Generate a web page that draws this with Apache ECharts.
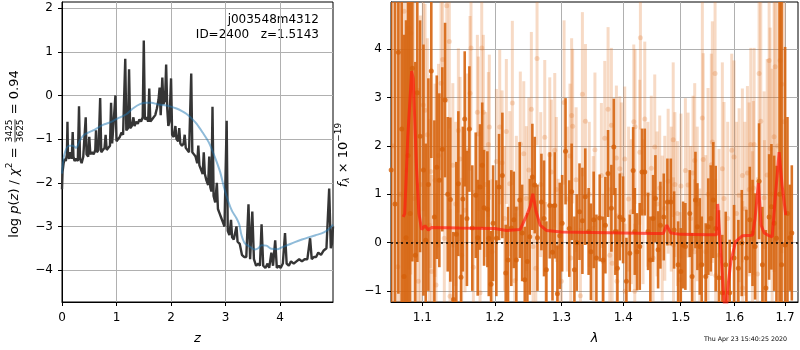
<!DOCTYPE html>
<html>
<head>
<meta charset="utf-8">
<script src="https://cdn.jsdelivr.net/npm/echarts@6/dist/echarts.min.js"></script>
<style>
html, body { margin: 0; padding: 0; background: #fff; }
#box { width: 800px; height: 350px; }
</style>
</head>
<body>
<div id="box"></div>
<script>
var FONT = 'DejaVu Sans';

// ---- left panel: log p(z) ----
// [z, log p(z)]
var pzCurve = [
  [0.00,-2.15],[0.01,-1.75],[0.03,-1.55],[0.05,-1.45],[0.07,-1.5],[0.09,-1.35],[0.10,-0.6],[0.11,-1.4],
  [0.13,-1.45],[0.15,-1.3],[0.17,-1.4],[0.18,-1.45],[0.196,-0.84],[0.21,-1.4],[0.23,-1.5],[0.26,-1.45],
  [0.29,-1.5],[0.312,-0.25],[0.33,-1.45],[0.36,-1.55],[0.39,-1.4],[0.42,-1.4],[0.435,-0.5],[0.45,-1.35],
  [0.48,-1.4],[0.50,-0.95],[0.52,-1.35],[0.55,-1.3],[0.58,-1.35],[0.61,-1.25],[0.624,-0.8],[0.64,-1.3],
  [0.67,-1.25],[0.70,-0.06],[0.72,-1.3],[0.75,-1.25],[0.78,-1.2],[0.80,-0.9],[0.82,-1.25],[0.85,-1.2],
  [0.88,-1.15],[0.90,-0.17],[0.92,-1.1],[0.95,-1.1],[0.98,0.0],[1.00,-1.05],[1.03,-1.0],[1.06,-0.95],
  [1.09,-0.85],[1.12,-0.9],[1.16,0.84],[1.18,-0.8],[1.21,-0.75],[1.23,0.6],[1.25,-0.75],[1.28,-0.7],
  [1.31,-0.5],[1.33,-0.7],[1.36,-0.6],[1.39,-0.65],[1.42,-0.55],[1.45,-0.6],[1.48,-0.5],[1.50,1.26],
  [1.52,-0.55],[1.55,-0.5],[1.58,-0.6],[1.60,0.16],[1.62,-0.6],[1.65,-0.55],[1.68,-0.55],[1.71,-0.45],
  [1.74,-0.3],[1.77,-0.1],[1.79,0.18],[1.81,-0.45],[1.84,0.41],[1.86,-0.2],[1.89,-0.1],[1.91,0.71],
  [1.93,-0.3],[1.95,-0.7],[1.97,-0.6],[2.00,0.39],[2.02,-0.9],[2.05,-0.95],[2.08,-0.7],[2.10,-1.0],
  [2.13,-1.05],[2.15,-0.75],[2.17,-1.1],[2.20,-1.15],[2.23,-1.1],[2.25,-0.9],[2.27,-1.2],[2.30,-1.25],
  [2.33,-1.3],[2.37,0.5],[2.39,-1.3],[2.42,-1.35],[2.45,-1.4],[2.48,-1.55],[2.50,-1.15],[2.52,-1.6],
  [2.55,-1.7],[2.58,-1.8],[2.60,-1.3],[2.62,-1.8],[2.65,-1.95],[2.68,-2.05],[2.70,-1.4],[2.72,-2.1],
  [2.74,-2.2],[2.76,-0.26],[2.78,-2.3],[2.81,-2.45],[2.84,-2.0],[2.86,-2.6],[2.89,-2.7],[2.92,-2.8],
  [2.95,-2.9],[2.98,-3.0],[3.02,-0.58],[3.04,-3.1],[3.07,-3.2],[3.10,-2.85],[3.12,-3.25],[3.15,-3.3],
  [3.18,-3.3],[3.20,-3.0],[3.22,-3.35],[3.26,-3.4],[3.30,-3.65],[3.34,-3.7],[3.38,-3.7],[3.42,-2.49],
  [3.45,-3.75],[3.49,-2.66],[3.52,-3.75],[3.56,-3.9],[3.60,-3.85],[3.63,-3.9],[3.66,-2.95],[3.69,-3.9],
  [3.73,-3.95],[3.77,-3.85],[3.80,-3.95],[3.84,-3.6],[3.87,-3.9],[3.91,-3.32],[3.94,-3.95],[3.98,-3.9],
  [4.01,-3.95],[4.05,-3.85],[4.09,-3.15],[4.12,-3.85],[4.16,-3.9],[4.20,-3.8],[4.25,-3.85],[4.30,-3.8],
  [4.35,-3.75],[4.40,-3.8],[4.45,-3.75],[4.50,-3.75],[4.55,-3.27],[4.58,-3.75],[4.62,-3.7],[4.66,-3.7],
  [4.70,-3.6],[4.75,-3.65],[4.80,-3.55],[4.85,-3.5],[4.90,-2.13],[4.93,-3.5],[4.95,-3.4],[4.97,-3.0]
];
// smooth prior-like curve [z, value]
var pzSmooth = [
  [0,-1.79],[0.04,-1.37],[0.13,-1.15],[0.2,-1.15],[0.26,-1.2],[0.32,-1.05],[0.39,-0.92],[0.48,-0.85],
  [0.57,-0.8],[0.67,-0.73],[0.76,-0.67],[0.85,-0.63],[0.94,-0.58],[1.05,-0.51],[1.18,-0.43],[1.3,-0.3],
  [1.43,-0.2],[1.55,-0.17],[1.64,-0.17],[1.75,-0.2],[1.85,-0.22],[1.98,-0.25],[2.1,-0.3],[2.2,-0.36],
  [2.28,-0.42],[2.38,-0.53],[2.47,-0.65],[2.58,-0.85],[2.69,-1.07],[2.8,-1.4],[2.9,-1.75],[2.97,-2.1],
  [3.05,-2.43],[3.12,-2.65],[3.2,-2.81],[3.25,-2.95],[3.29,-3.19],[3.35,-3.38],[3.45,-3.47],[3.54,-3.53],
  [3.6,-3.5],[3.66,-3.43],[3.75,-3.44],[3.84,-3.51],[3.95,-3.52],[4.03,-3.48],[4.15,-3.42],[4.27,-3.36],
  [4.4,-3.3],[4.52,-3.25],[4.65,-3.2],[4.76,-3.16],[4.85,-3.1],[4.92,-3.03],[4.97,-2.96]
];
var zTicks = [0, 1, 2, 3, 4];
var pzTicks = [-4, -3, -2, -1, 0, 1, 2];

// ---- right panel: spectrum ----
// [lambda, flux, err]  dark (first spectrum)
var specDark = [
  [1.0596,1.5,6],[1.0645,0.8,6],[1.0688,3.94,5],[1.0731,2.35,5],[1.0761,-0.7,5],[1.0787,0.1,4.5],
  [1.0813,1.8,5],[1.0840,0.6,5],[1.0869,3.61,4],[1.0908,-0.26,4],[1.0934,3.1,3.5],[1.0970,2.2,2.4],
  [1.1015,1.5,2.6],[1.1045,0.05,2.0],[1.1080,1.2,2.2],[1.1119,3.55,1.8],[1.1160,0.53,2.0],[1.1192,1.56,1.9],
  [1.1227,1.29,1.8],[1.1267,1.93,1.7],[1.1304,2.95,1.6],[1.1340,1.0,1.6],[1.1376,0.89,1.7],[1.1417,-1.18,1.4],
  [1.1458,0.17,1.5],[1.1486,1.22,1.5],[1.1523,-0.72,1.3],[1.1548,0.9,1.5],[1.1574,2.56,1.4],[1.1605,0.5,1.4],
  [1.1639,2.35,1.3],[1.1680,0.3,1.3],[1.1728,0.98,1.3],[1.1756,0.1,1.2],[1.1789,1.15,1.3],[1.1820,1.6,1.3],
  [1.1846,0.72,1.2],[1.1893,0.69,1.2],[1.1913,0.09,1.2],[1.1946,-0.86,1.1],[1.1975,0.4,1.2],
  [1.2022,0.09,1.2],[1.2061,1.15,1.1],[1.2109,1.39,1.3],[1.2158,-0.63,1.0],[1.2192,-0.36,1.1],[1.2240,0.3,1.2],
  [1.2276,0.47,1.0],[1.2314,-0.36,1.1],[1.2364,0.88,1.2],[1.2400,0.2,1.0],[1.2439,-0.77,1.1],[1.2478,-0.39,1.0],
  [1.2514,0.12,1.2],[1.2553,1.36,1.1],[1.2589,1.19,1.0],[1.2630,0.1,1.1],[1.2690,0.84,1.0],[1.2730,0.5,1.2],
  [1.2766,-0.56,1.0],[1.2818,0.77,1.1],[1.2860,-0.2,1.0],[1.2895,0.77,1.1],[1.2936,-1.06,1.0],[1.2973,0.14,1.1],
  [1.3010,0.4,1.0],[1.3063,1.89,1.1],[1.3122,0.29,1.0],[1.3159,1.05,1.0],[1.3203,-0.56,1.1],[1.3240,0.0,1.0],
  [1.3284,0.64,1.0],[1.3330,0.45,1.1],[1.3376,0.95,1.0],[1.3430,0.23,0.9],[1.3467,-0.19,1.0],[1.3512,0.47,1.0],
  [1.3556,-0.32,0.9],
  [1.3610,0.51,0.9],[1.3665,-0.36,0.9],[1.3703,0.36,1.0],[1.3747,1.43,0.9],[1.3802,0.71,0.9],[1.3842,1.98,1.0],
  [1.3868,0.23,0.9],[1.3902,-0.53,0.8],[1.3942,0.53,0.9],[1.3997,0.47,0.9],[1.4053,-0.8,0.9],[1.4110,-0.22,0.8],
  [1.4167,1.49,0.9],[1.4195,0.23,0.9],[1.4234,-0.19,0.8],[1.4280,-0.08,0.9],[1.4319,1.46,0.9],[1.4366,1.46,0.9],
  [1.4423,0.23,0.8],[1.4463,-0.36,0.9],[1.4510,0.5,0.9],[1.4551,0.91,0.9],[1.4598,-0.15,0.8],[1.4638,0.36,0.9],
  [1.4698,0.53,0.9],[1.4762,0.84,0.9],[1.4822,0.84,0.9],[1.4881,0.26,0.8],[1.4953,-0.46,0.9],[1.5001,-0.6,0.9],
  [1.5043,-0.05,0.9],[1.5084,-0.08,0.9],[1.5164,0.6,0.9],[1.5206,-0.7,0.9],[1.5267,0.88,1.0],[1.5303,0.33,0.9],
  [1.5347,-0.08,1.0],
  [1.5383,-0.46,1.0],[1.5457,-0.7,1.1],[1.5505,0.33,1.0],[1.5550,0.5,1.1],[1.5598,0.88,1.2],[1.5643,0.29,1.3],
  [1.5705,-0.73,1.4],[1.5768,-1.04,1.2],[1.5832,-0.46,1.1],[1.5908,-1.04,1.1],[1.5991,-0.32,1.1],[1.6074,-0.53,1.0],
  [1.6140,-0.01,1.1],[1.6230,-0.32,1.0],[1.6296,0.47,1.1],[1.6350,0.2,1.1],[1.6400,-0.08,1.1],[1.6479,1.27,1.2],
  [1.6545,-0.46,1.2],[1.6613,-0.94,1.2],[1.6679,0.53,1.3],[1.6725,0.74,1.3],[1.6780,0.4,1.4],[1.6826,0.09,1.5],
  [1.6890,1.0,6.0],[1.6930,-0.46,5.5],[1.7002,-0.05,4.1],[1.7050,0.6,2.0],[1.7098,0.1,1.1],[1.7139,0.2,1.4]
];
// [lambda, flux, err]  light (second spectrum)
var specLight = [
  [1.0620,2.0,6],[1.0680,-0.5,6],[1.0715,1.0,6],[1.0761,4.79,6],[1.0800,1.5,5],[1.0826,4.44,5],
  [1.0848,4.34,5],[1.0891,0.91,4.5],[1.0947,-0.8,4],[1.0975,1.2,3.5],
  [1.1013,2.85,2.2],[1.1036,2.74,2.2],[1.1066,2.23,2.0],[1.1093,0.36,2.2],[1.1111,1.47,2.0],[1.1124,-0.6,2.0],
  [1.1169,1.29,2.0],[1.1182,-0.88,1.9],[1.1215,1.8,1.9],[1.1250,3.3,1.8],[1.1272,3.79,1.8],[1.1294,0.09,1.9],
  [1.1327,4.9,2.0],[1.1362,4.16,1.8],[1.1372,-1.11,1.8],[1.1410,1.6,1.7],[1.1450,0.8,1.7],[1.1486,2.32,1.7],
  [1.1509,1.73,1.7],[1.1532,-0.26,1.6],[1.1579,0.67,1.7],[1.1610,1.9,1.6],[1.1648,3.09,1.6],[1.1662,4.03,1.7],
  [1.1695,-0.51,1.6],[1.1751,2.7,1.6],[1.1765,2.25,1.6],[1.1789,-1.04,1.5],[1.1813,4.03,1.7],[1.1836,2.7,1.6],
  [1.1870,1.2,1.5],[1.1907,2.03,1.5],[1.1921,2.39,1.5],[1.1960,-0.19,1.5],
  [1.2022,1.68,1.5],[1.2071,2.39,1.6],[1.2105,1.65,1.5],[1.2140,0.5,1.5],[1.2167,2.3,1.5],[1.2217,1.22,1.5],
  [1.2255,2.89,1.7],[1.2291,-0.79,1.4],[1.2314,0.71,1.5],[1.2373,2.04,1.5],[1.2424,1.84,1.5],[1.2463,0.91,1.5],
  [1.2500,1.5,1.5],[1.2538,2.76,1.6],[1.2564,-0.08,1.4],[1.2605,-0.53,1.4],[1.2624,3.81,1.8],[1.2680,1.2,1.5],
  [1.2741,2.18,1.6],[1.2756,-0.56,1.4],[1.2818,1.82,1.6],[1.2842,1.46,1.5],[1.2895,1.91,1.6],[1.2920,1.1,1.5],
  [1.2948,-0.08,1.4],[1.2998,-0.8,1.4],[1.3040,2.9,1.7],[1.3090,0.9,1.5],[1.3133,1.79,1.5],[1.3145,-0.32,1.4],
  [1.3159,2.63,1.6],[1.3175,2.41,1.6],[1.3230,1.3,1.5],[1.3298,-1.1,1.4],[1.3330,3.07,1.7],[1.3379,2.51,1.6],
  [1.3440,1.0,1.5],[1.3504,0.29,1.5],[1.3532,1.92,1.6],
  [1.3637,1.39,1.5],[1.3665,-0.39,1.4],[1.3693,2.16,1.6],[1.3747,2.76,1.7],[1.3775,-0.26,1.4],[1.3802,2.43,1.6],
  [1.3815,-0.43,1.4],[1.3885,1.75,1.5],[1.3895,-0.8,1.4],[1.3942,1.53,1.5],[1.3969,1.4,1.5],[1.4025,1.73,1.5],
  [1.4030,-1.01,1.4],[1.4090,0.9,1.5],[1.4137,0.64,1.5],[1.4178,2.5,1.6],[1.4195,-1.01,1.4],[1.4200,2.4,1.6],
  [1.4280,1.87,1.5],[1.4291,4.24,1.9],[1.4336,0.64,1.5],[1.4366,2.56,1.6],[1.4420,1.0,1.5],[1.4479,1.54,1.5],
  [1.4510,-0.32,1.4],[1.4539,1.98,1.5],[1.4580,0.8,1.5],[1.4626,1.13,1.5],[1.4670,0.3,1.5],[1.4716,0.71,1.5],
  [1.4775,1.27,1.5],[1.4830,0.9,1.5],[1.4865,2.13,1.6],[1.4870,-0.05,1.4],[1.4895,1.2,1.5],[1.4940,0.6,1.5],
  [1.4986,-0.77,1.4],[1.5004,1.17,1.5],[1.5084,1.49,1.5],[1.5133,1.19,1.5],[1.5180,0.5,1.5],[1.5223,1.44,1.6],
  [1.5250,-0.19,1.5],[1.5254,1.7,1.6],[1.5300,0.8,1.6],[1.5347,-0.48,1.6],
  [1.5394,2.58,2.4],[1.5410,1.72,2.2],[1.5457,-0.19,2.0],[1.5500,1.0,2.2],[1.5561,1.61,2.3],[1.5580,2.08,2.5],
  [1.5631,3.5,2.8],[1.5643,-0.68,2.0],[1.5705,-0.26,2.2],[1.5768,1.53,2.2],[1.5800,0.91,2.0],[1.5870,0.5,2.0],
  [1.5947,1.91,2.0],[1.5991,1.77,2.0],[1.6040,0.6,1.9],[1.6088,0.98,1.8],[1.6152,1.39,1.8],[1.6158,-0.94,1.8],
  [1.6200,0.7,1.8],[1.6250,1.44,1.8],[1.6283,1.1,1.8],[1.6316,2.03,2.0],[1.6348,0.09,1.8],[1.6367,1.13,1.8],
  [1.6381,2.03,2.0],[1.6447,-0.65,2.0],[1.6479,3.5,2.5],[1.6513,2.51,2.5],[1.6579,0.93,2.2],[1.6585,-0.08,2.2],
  [1.6640,1.4,2.4],[1.6679,3.77,2.8],[1.6699,1.95,2.5],[1.6740,1.0,2.6],[1.6779,2.19,2.8],[1.6799,3.64,3.0],
  [1.6850,2.0,3.2],[1.6900,3.77,3.5],[1.6934,3.28,3.5],[1.6980,2.5,3.5]
];
// best-fit model [lambda, flux]
var model = [
  [1.075,0.53],[1.077,0.6],[1.081,2.2],[1.086,3.55],[1.088,3.4],[1.0925,1.5],[1.0955,0.6],[1.099,0.27],
  [1.1035,0.35],[1.108,0.26],[1.112,0.31],[1.15,0.3],[1.2,0.29],[1.217,0.25],[1.237,0.27],[1.247,0.57],
  [1.252,0.75],[1.256,1.01],[1.261,0.64],[1.267,0.36],[1.277,0.25],[1.3,0.22],[1.35,0.21],[1.4,0.2],
  [1.45,0.19],[1.469,0.19],[1.475,0.36],[1.482,0.2],[1.5,0.17],[1.55,0.16],[1.566,0.16],[1.568,0.8],
  [1.574,-0.2],[1.580,-1.2],[1.584,-1.6],[1.5865,-1.0],[1.593,-0.39],[1.602,0.02],[1.615,0.14],[1.635,0.15],
  [1.640,0.5],[1.6466,1.23],[1.652,0.36],[1.658,0.2],[1.666,0.15],[1.674,0.12],[1.680,0.91],[1.688,1.87],
  [1.694,1.19],[1.7015,0.57]
];
var waveTicks = [1.1, 1.2, 1.3, 1.4, 1.5, 1.6, 1.7];
var fluxTicks = [-1, 0, 1, 2, 3, 4];

var myChart = echarts.init(document.getElementById('box'));

function minus(v) { return String(v).replace('-', '\u2212'); }
function toBars(rows) { return rows.map(function (r) { return [r[0], r[1] - r[2], r[1] + r[2]]; }); }
function toDots(rows) { return rows.map(function (r) { return [r[0], r[1]]; }); }

// vertical error bar drawn as a thin rect, clipped to the grid
function barItem(w, color) {
  return function (params, api) {
    var top = api.coord([api.value(0), api.value(2)]);
    var bot = api.coord([api.value(0), api.value(1)]);
    var cs = params.coordSys;
    var rect = echarts.graphic.clipRectByRect(
      {x: top[0] - w / 2, y: top[1], width: w, height: bot[1] - top[1]},
      {x: cs.x, y: cs.y, width: cs.width, height: cs.height});
    return rect && {type: 'rect', shape: rect, style: {fill: color}};
  };
}

function axis(ticks, fmt, margin, extra) {
  var a = {
    axisLine: {show: true, onZero: false, lineStyle: {color: '#000', width: 1}},
    axisTick: {show: true, inside: false, length: 4, customValues: ticks, lineStyle: {color: '#000', width: 1}},
    axisLabel: {customValues: ticks, formatter: fmt, color: '#000', fontFamily: FONT, fontSize: 12, margin: margin},
    splitLine: {show: true, lineStyle: {color: '#b0b0b0', width: 1}}
  };
  return Object.assign(a, extra);
}

// math-like rotated label built from pieces
var mctx = document.createElement('canvas').getContext('2d');
function textW(s, size, italic) {
  mctx.font = (italic ? 'italic ' : '') + size + 'px "' + FONT + '"';
  return mctx.measureText(s).width;
}
function piece(t, x, y, size, italic, align, valign) {
  return {type: 'text', x: x, y: y, style: {
    text: t, fill: '#000', font: (italic ? 'italic ' : '') + size + 'px "' + FONT + '"',
    textAlign: align, textVerticalAlign: valign, align: align, verticalAlign: valign}};
}
function mathLabel(parts, cx, cy) {
  var x = 0, kids = [];
  parts.forEach(function (p) {
    if (p.frac) {
      var w = Math.max(textW(p.frac[0], p.size), textW(p.frac[1], p.size)) + 2;
      kids.push(piece(p.frac[0], x + w / 2, -1.2, p.size, false, 'center', 'bottom'));
      kids.push(piece(p.frac[1], x + w / 2, 1.2, p.size, false, 'center', 'top'));
      kids.push({type: 'line', shape: {x1: x + 1, y1: 0, x2: x + w - 1, y2: 0}, style: {stroke: '#000', lineWidth: 0.8}});
      x += w;
    } else {
      kids.push(piece(p.t, x, p.dy || 0, p.size, p.italic, 'left', 'middle'));
      x += textW(p.t, p.size, p.italic);
    }
  });
  return {type: 'group', x: cx, y: cy + x / 2, rotation: Math.PI / 2, children: kids, silent: true};
}

var leftLabel = mathLabel([
  {t: 'log ', size: 13}, {t: 'p', size: 13, italic: true}, {t: '(', size: 13},
  {t: 'z', size: 13, italic: true}, {t: ') / ', size: 13}, {t: '\u03c7', size: 13, italic: true},
  {t: '2', size: 9, dy: -5}, {t: ' = ', size: 13}, {frac: ['3425', '3625'], size: 9},
  {t: ' = 0.94', size: 13}
], 15, 154);
var rightLabel = mathLabel([
  {t: 'f', size: 13, italic: true}, {t: '\u03bb', size: 9, italic: true, dy: 3},
  {t: ' \u00d7 10', size: 13}, {t: '\u221219', size: 9, dy: -5}
], 344, 155);

var option = {
  animation: false,
  backgroundColor: '#fff',
  grid: [
    {left: 62, top: 2, width: 271, height: 302, show: true, borderColor: '#000', borderWidth: 1, backgroundColor: 'transparent'},
    {left: 391, top: 2, width: 407, height: 302, show: true, borderColor: '#000', borderWidth: 1, backgroundColor: 'transparent'}
  ],
  xAxis: [
    axis(zTicks, minus, 10, {gridIndex: 0, type: 'value', min: 0, max: 4.97,
      name: 'z', nameLocation: 'middle', nameGap: 30,
      nameTextStyle: {fontFamily: FONT, fontSize: 13, fontStyle: 'italic', color: '#000'}}),
    axis(waveTicks, function (v) { return v.toFixed(1); }, 10, {gridIndex: 1, type: 'log', logBase: 10,
      min: 1.0594, max: 1.7267,
      name: '\u03bb', nameLocation: 'middle', nameGap: 30,
      nameTextStyle: {fontFamily: FONT, fontSize: 13, fontStyle: 'italic', color: '#000'}})
  ],
  yAxis: [
    axis(pzTicks, minus, 9, {gridIndex: 0, type: 'value', min: -4.73, max: 2.14}),
    axis(fluxTicks, minus, 9, {gridIndex: 1, type: 'value', min: -1.23, max: 4.98})
  ],
  graphic: [
    leftLabel,
    rightLabel,
    {type: 'text', x: 319, y: 20, silent: true, style: {text: 'j003548m4312', fill: '#000',
      font: '12px "' + FONT + '"', textAlign: 'right', textVerticalAlign: 'middle', align: 'right', verticalAlign: 'middle'}},
    {type: 'text', x: 319, y: 34.5, silent: true, style: {text: 'ID=2400   z=1.5143', fill: '#000',
      font: '12px "' + FONT + '"', textAlign: 'right', textVerticalAlign: 'middle', align: 'right', verticalAlign: 'middle'}},
    {type: 'text', x: 787, y: 339, silent: true, style: {text: 'Thu Apr 23 15:40:25 2020', fill: '#000',
      font: '6.3px "' + FONT + '"', textAlign: 'right', textVerticalAlign: 'middle', align: 'right', verticalAlign: 'middle'}}
  ],
  series: [
    {type: 'line', name: 'pz', xAxisIndex: 0, yAxisIndex: 0, data: pzCurve, showSymbol: false, symbol: 'none',
      lineStyle: {color: '#353535', width: 2.4}, z: 3, silent: true},
    {type: 'line', name: 'prior', xAxisIndex: 0, yAxisIndex: 0, data: pzSmooth, showSymbol: false, symbol: 'none',
      smooth: 0.3, lineStyle: {color: 'rgba(31,119,180,0.5)', width: 2}, z: 4, silent: true},
    {type: 'custom', name: 'light err', xAxisIndex: 1, yAxisIndex: 1, data: toBars(specLight),
      encode: {x: 0, y: [1, 2]}, renderItem: barItem(3, 'rgba(224,112,32,0.26)'), z: 1, silent: true},
    {type: 'scatter', name: 'light', xAxisIndex: 1, yAxisIndex: 1, data: toDots(specLight), symbolSize: 5,
      itemStyle: {color: 'rgba(224,112,32,0.3)'}, z: 2, silent: true},
    {type: 'custom', name: 'dark err', xAxisIndex: 1, yAxisIndex: 1, data: toBars(specDark),
      encode: {x: 0, y: [1, 2]}, renderItem: barItem(2.6, 'rgba(214,100,14,0.9)'), z: 3, silent: true},
    {type: 'scatter', name: 'dark', xAxisIndex: 1, yAxisIndex: 1, data: toDots(specDark), symbolSize: 5,
      itemStyle: {color: '#d4600a'}, z: 4, silent: true},
    {type: 'line', name: 'model', xAxisIndex: 1, yAxisIndex: 1, data: model, showSymbol: false, symbol: 'none',
      lineStyle: {color: 'rgba(255,25,15,0.68)', width: 3}, z: 6, silent: true,
      markLine: {silent: true, symbol: 'none', label: {show: false},
        lineStyle: {color: '#000', type: [2, 3], width: 1.6}, data: [{yAxis: 0}]}}
  ]
};
myChart.setOption(option);
</script>
</body>
</html>
